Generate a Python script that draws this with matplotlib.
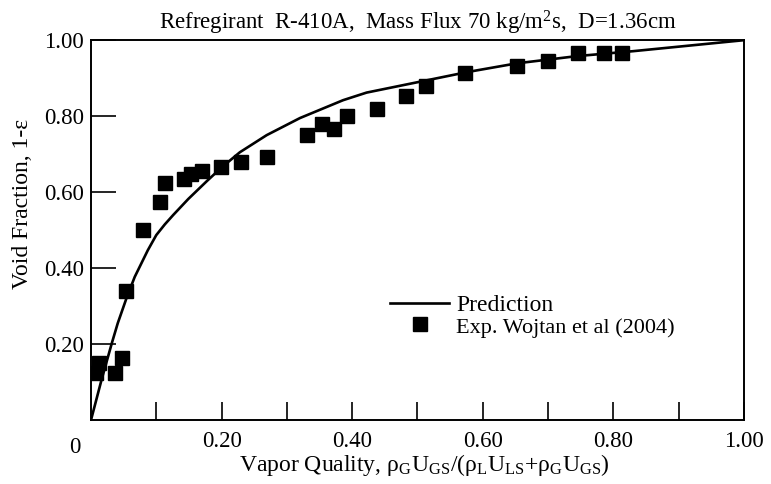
import matplotlib
matplotlib.use("Agg")
import matplotlib.pyplot as plt

plt.rcParams["font.family"] = ["Liberation Serif", "DejaVu Serif"]
plt.rcParams["mathtext.fontset"] = "custom"
plt.rcParams["mathtext.rm"] = "Liberation Serif"
plt.rcParams["mathtext.it"] = "Liberation Serif:italic"

# prediction curve
pred_x = [0.0, 0.016, 0.032, 0.041, 0.055, 0.067, 0.075, 0.087, 0.100, 0.113,
          0.126, 0.149, 0.178, 0.200, 0.228, 0.269, 0.320, 0.386, 0.422, 0.499,
          0.576, 0.652, 0.744, 0.830, 1.0]
pred_y = [0.0, 0.105, 0.203, 0.255, 0.324, 0.377, 0.405, 0.447, 0.487, 0.515,
          0.540, 0.582, 0.630, 0.665, 0.705, 0.750, 0.795, 0.842, 0.862, 0.889,
          0.916, 0.939, 0.958, 0.971, 1.0]

# Wojtan et al (2004) data points
exp_x = [0.008, 0.012, 0.037, 0.048, 0.054, 0.080, 0.106, 0.113, 0.142, 0.153,
         0.170, 0.199, 0.230, 0.269, 0.331, 0.354, 0.372, 0.392, 0.438, 0.482,
         0.513, 0.573, 0.652, 0.700, 0.746, 0.786, 0.813]
exp_y = [0.124, 0.150, 0.124, 0.163, 0.340, 0.500, 0.574, 0.623, 0.634, 0.647,
         0.655, 0.666, 0.679, 0.692, 0.750, 0.779, 0.766, 0.800, 0.818, 0.853,
         0.879, 0.913, 0.931, 0.944, 0.966, 0.966, 0.966]

xticks = [0.2, 0.4, 0.6, 0.8, 1.0]
xticklabels = ["0.20", "0.40", "0.60", "0.80", "1.00"]
yticks = [0.2, 0.4, 0.6, 0.8, 1.0]
yticklabels = ["0.20", "0.40", "0.60", "0.80", "1.00"]

fig = plt.figure(figsize=(7.71, 4.84), dpi=100)
ax = fig.add_axes([0.118, 0.132, 0.847, 0.785])

ax.plot(pred_x, pred_y, color="black", lw=1.9, label="Prediction")
ax.plot(exp_x, exp_y, ls="none", marker="s", ms=10.5, color="black",
        label="Exp. Wojtan et al (2004)")

ax.set_xlim(0, 1)
ax.set_ylim(0, 1)
ax.set_xticks(xticks)
ax.set_xticklabels(xticklabels)
ax.set_xticks([0.1, 0.3, 0.5, 0.7, 0.9], minor=True)
ax.set_yticks(yticks)
ax.set_yticklabels(yticklabels)
ax.tick_params(axis="x", which="both", direction="in", length=13, width=1.2,
               labelsize=16.5, pad=8)
ax.tick_params(axis="y", direction="in", length=18, width=1.2, labelsize=16.5, pad=5)
for s in ax.spines.values():
    s.set_linewidth(1.4)

# shared origin label
ax.text(-0.025, -0.045, "0", transform=ax.transAxes, ha="center", va="top",
        fontsize=16.5)

ax.set_title(r"Refregirant  R-410A,  Mass Flux 70 kg/m$^2$s,  D=1.36cm",
             fontsize=16.5, pad=8)
ax.set_xlabel(r"Vapor Quality, ρ$_{\mathrm{G}}$U$_{\mathrm{GS}}$/(ρ$_{\mathrm{L}}$U$_{\mathrm{LS}}$+ρ$_{\mathrm{G}}$U$_{\mathrm{GS}}$)",
              fontsize=17)
ax.xaxis.set_label_coords(0.51, -0.084, transform=ax.transAxes)
ax.xaxis.label.set_va("top")
ax.set_ylabel("Void Fraction, 1-ε", fontsize=17)
ax.yaxis.set_label_coords(-0.089, 0.57)

leg = ax.legend(loc="upper left", bbox_to_anchor=(0.444, 0.355), frameon=False,
                fontsize=17, handlelength=2.5, handletextpad=0.3, labelspacing=0.0,
                borderaxespad=0)
leg.get_texts()[1].set_fontsize(16)

fig.savefig("out.png", dpi=100)
